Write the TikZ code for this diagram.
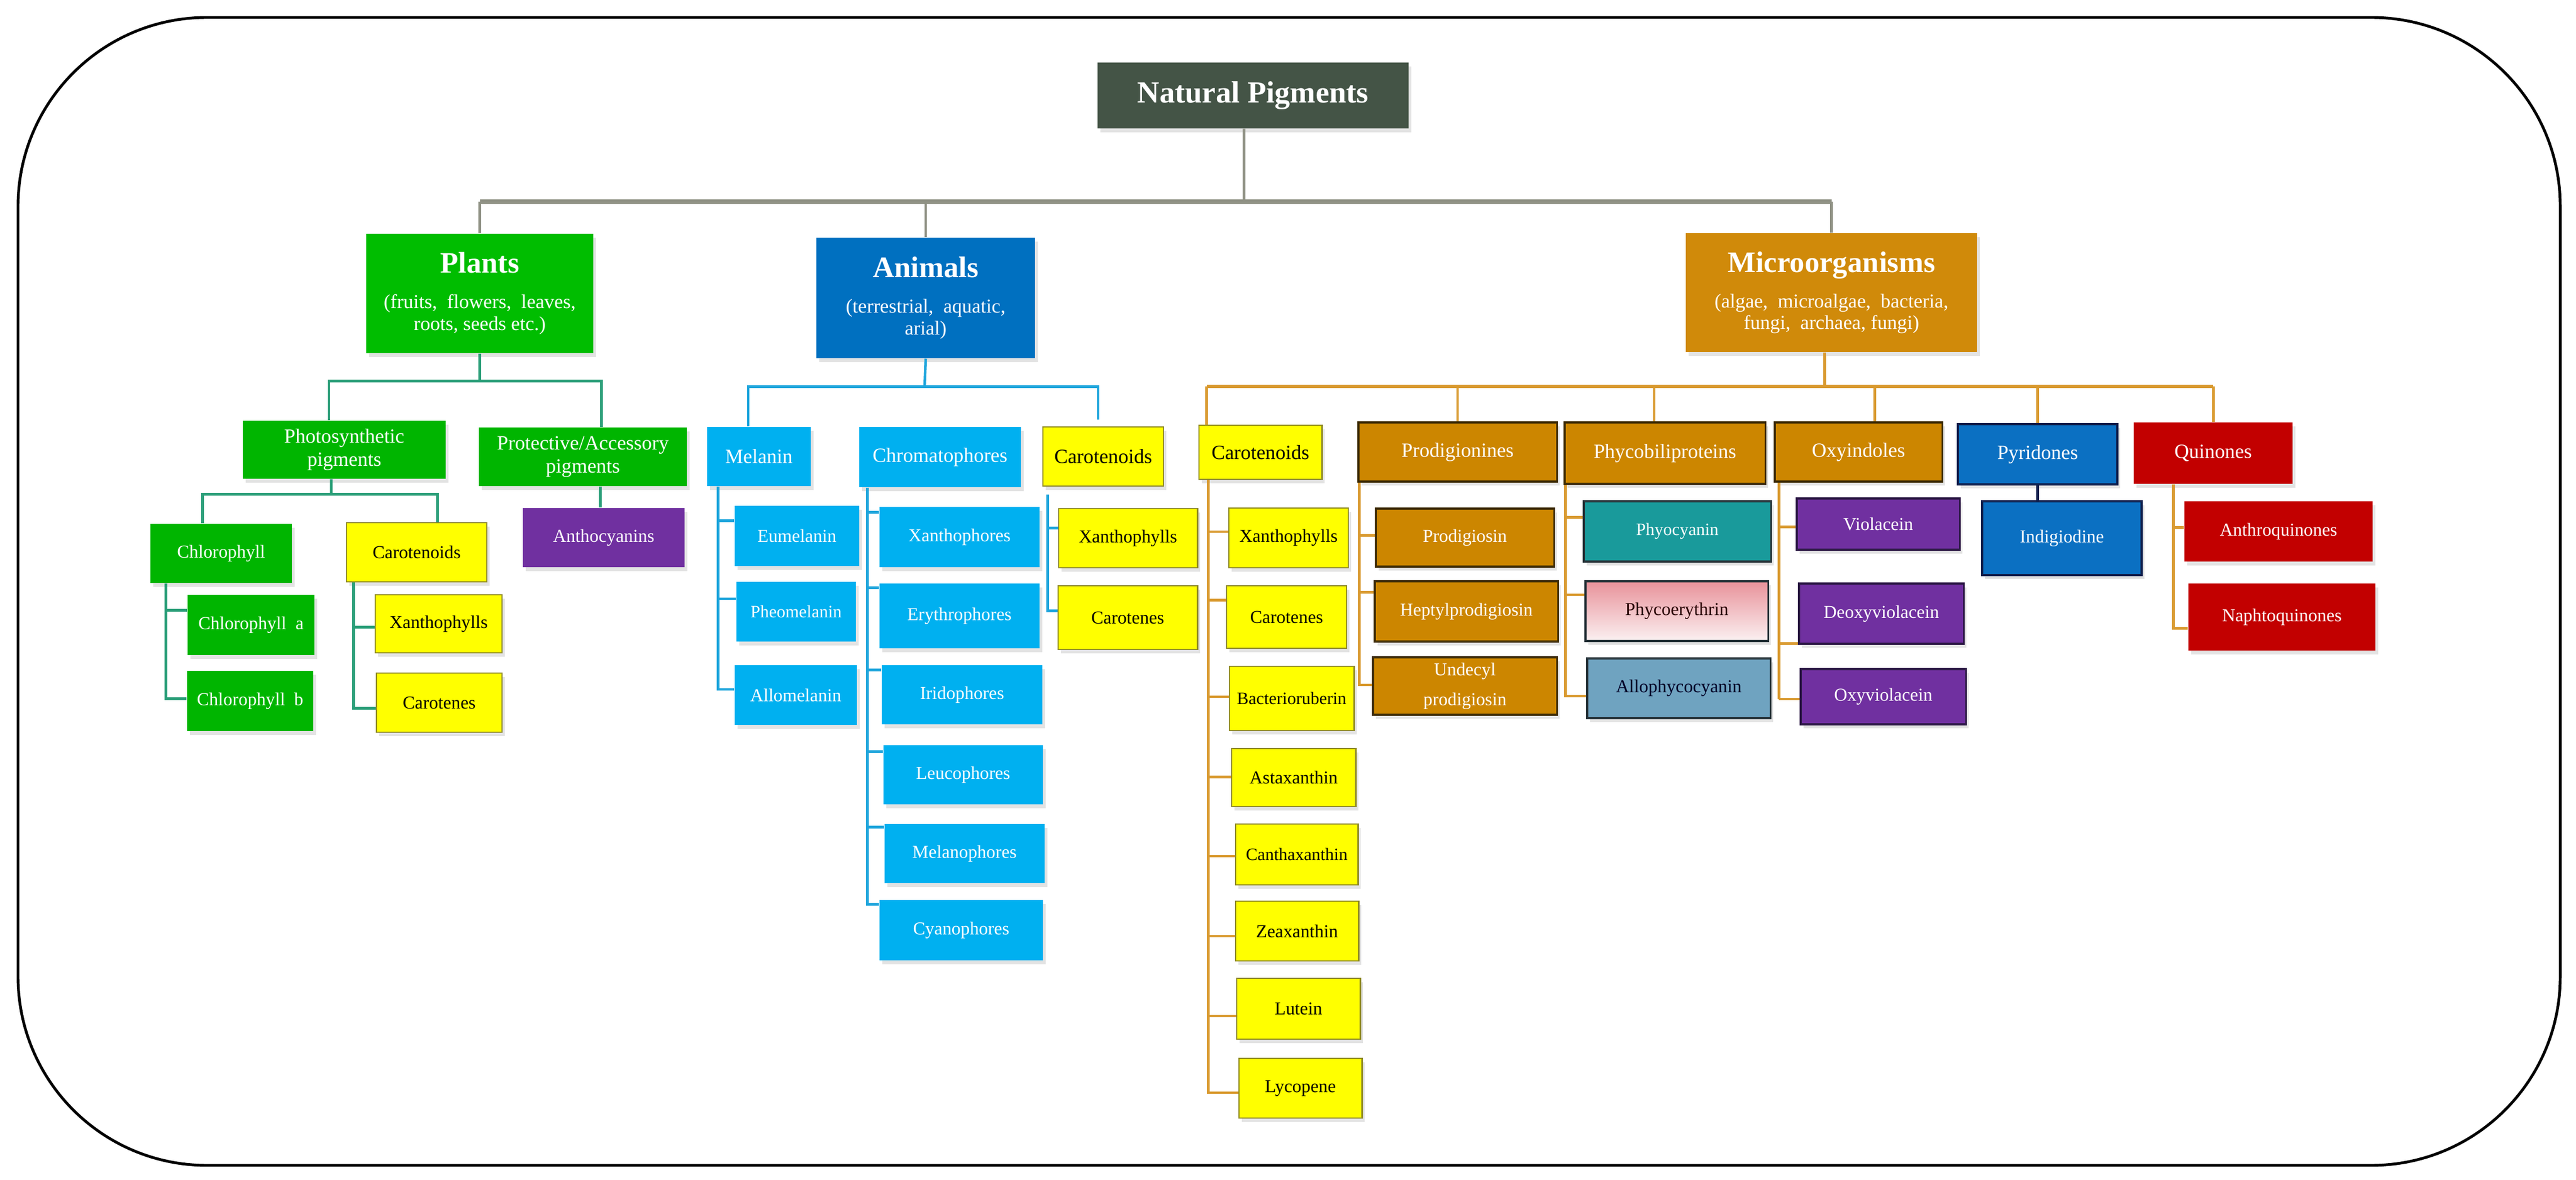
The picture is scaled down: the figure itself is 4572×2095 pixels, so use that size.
\documentclass[tikz,border=0pt]{standalone}
\usepackage{fontspec}
\setmainfont{Liberation Serif}
\usetikzlibrary{calc,shadows}
\definecolor{npc}{HTML}{445446}
\definecolor{grayln}{HTML}{8F9184}
\definecolor{plantc}{HTML}{00BD00}
\definecolor{greenc}{HTML}{00B500}
\definecolor{greenln}{HTML}{2A9E78}
\definecolor{yel}{HTML}{FFFF00}
\definecolor{yelbd}{HTML}{8F8A28}
\definecolor{purp}{HTML}{7030A0}
\definecolor{violbd}{HTML}{2C1845}
\definecolor{animc}{HTML}{0070C0}
\definecolor{lblue}{HTML}{00B0F0}
\definecolor{blueln}{HTML}{1EA5DC}
\definecolor{microc}{HTML}{D08A0A}
\definecolor{orng}{HTML}{CC8600}
\definecolor{orngbd}{HTML}{3E2C05}
\definecolor{orngln}{HTML}{D99A30}
\definecolor{tealc}{HTML}{199A9B}
\definecolor{pinkt}{HTML}{E8929A}
\definecolor{pinkb}{HTML}{FBF0F1}
\definecolor{steel}{HTML}{6FA3C0}
\definecolor{pyrc}{HTML}{0B70C2}
\definecolor{navy}{HTML}{0E1F4D}
\definecolor{redc}{HTML}{C20000}
\definecolor{darkbd}{HTML}{263238}
\tikzset{
  bx/.style={rectangle, align=center, inner sep=1pt,
    drop shadow={shadow xshift=0.5mm, shadow yshift=-0.7mm, opacity=0.22}},
  ttl/.style={font=\fontsize{10}{11}\selectfont},
  hdr/.style={font=\fontsize{10.2}{11.7}\selectfont},
  lf/.style={font=\fontsize{9.2}{11}\selectfont},
  sml/.style={font=\fontsize{8.8}{10.5}\selectfont},
  npbox/.style={bx, fill=npc, text=white, font=\bfseries\fontsize{15.5}{18}\selectfont},
  plantbox/.style={bx, fill=plantc, text=white, ttl},
  animbox/.style={bx, fill=animc, text=white, ttl},
  microbox/.style={bx, fill=microc, text=white, ttl},
  greenbox/.style={bx, fill=greenc, text=white},
  yelbox/.style={bx, fill=yel, draw=yelbd, line width=0.8pt, text=black},
  purpbox/.style={bx, fill=purp, text=white},
  lbbox/.style={bx, fill=lblue, text=white},
  orbox/.style={bx, fill=orng, draw=orngbd, line width=0.9pt, text=white},
  violbox/.style={bx, fill=purp, draw=violbd, line width=0.9pt, text=white},
  redbox/.style={bx, fill=redc, text=white},
  pyrbox/.style={bx, fill=pyrc, draw=navy, line width=1pt, text=white},
  topline/.style={draw=grayln, line width=1.4pt},
  topbus/.style={draw=grayln, line width=2.4pt},
  gln/.style={draw=greenln, line width=1.3pt},
  bln/.style={draw=blueln, line width=1.3pt},
  oln/.style={draw=orngln, line width=1.4pt},
  obus/.style={draw=orngln, line width=1.8pt},
  nln/.style={draw=navy, line width=1.6pt}
}
\newcommand\bxnode[7]{\node[#6, minimum width={(#4-#2)*0.1mm}, minimum height={(#5-#3)*0.1mm}] (#1) at ({(#2+#4)/2},{(#3+#5)/2}) {#7};}
\newcommand\tk[4]{\path ($(#2.west)+(0,#4)$) coordinate (tmp); \draw[#1] (tmp) -- (tmp -| #3);}
\newcommand\tkl[4]{\path ($(#2.west)+(0,#4)$) coordinate (tmp); \draw[#1] (#3) |- (tmp);}
\begin{document}
\begin{tikzpicture}[x=0.01cm,y=-0.01cm]
\useasboundingbox (0,0) rectangle (4572,2095);
\draw[line width=1.4pt, rounded corners=3.35cm] (32,31) rectangle (4544,2069);

% ---------- top level ----------
\bxnode{np}{1948}{111}{2500}{228}{npbox}{Natural Pigments}
\bxnode{plants}{650}{415}{1053}{627}{plantbox}{{\bfseries\fontsize{15}{18}\selectfont Plants}\\[7pt](fruits,\ \ flowers,\ \ leaves,\\roots, seeds etc.)}
\bxnode{animals}{1449}{422}{1837}{636}{animbox}{{\bfseries\fontsize{15}{18}\selectfont Animals}\\[7pt](terrestrial,\ \ aquatic,\\arial)}
\bxnode{micro}{2992}{414}{3509}{625}{microbox}{{\bfseries\fontsize{15}{18}\selectfont Microorganisms}\\[7pt](algae,\ \ microalgae,\ \ bacteria,\\fungi,\ \ archaea, fungi)}

\path ($(np.south)+(-16,129)$) coordinate (tb);
\draw[topline] ([xshift=-1.6mm]np.south) -- (tb);
\draw[topline] (plants.north) -- (plants.north |- tb);
\draw[topline] (animals.north) -- (animals.north |- tb);
\draw[topline] (micro.north) -- (micro.north |- tb);
\draw[topbus] (plants.north |- tb) -- (micro.north |- tb);

% ---------- plants ----------
\bxnode{photo}{431}{747}{791}{850}{greenbox,hdr}{Photosynthetic\\pigments}
\bxnode{prot}{850}{759}{1219}{863}{greenbox,hdr}{Protective/Accessory\\pigments}
\bxnode{chl}{267}{930}{518}{1035}{greenbox,lf}{Chlorophyll}
\bxnode{pcar}{615}{928}{864}{1033}{yelbox,lf}{Carotenoids}
\bxnode{antho}{928}{902}{1215}{1007}{purpbox,lf}{Anthocyanins}
\bxnode{chla}{333}{1056}{558}{1163}{greenbox,lf}{Chlorophyll\enspace a}
\bxnode{chlb}{332}{1191}{556}{1298}{greenbox,lf}{Chlorophyll\enspace b}
\bxnode{pxan}{666}{1056}{891}{1159}{yelbox,lf}{Xanthophylls}
\bxnode{pcaro}{668}{1195}{891}{1300}{yelbox,lf}{Carotenes}

\path ($(plants.south)+(0,49)$) coordinate (pjb);
\draw[gln] (plants.south) -- (pjb);
\draw[gln] ([xshift=-2.7mm]photo.north) |- (pjb) -| ([xshift=3.3mm]prot.north);
\path ($(photo.south)+(-23,27)$) coordinate (psb);
\draw[gln] ([xshift=-2.3mm]photo.south) -- (psb);
\draw[gln] ([xshift=-3.3mm]chl.north) |- (psb) -| ([xshift=3.7mm]pcar.north);
\path ([xshift=3.1mm]prot.south) coordinate (pa);
\draw[gln] (pa) -- (pa |- antho.north);
\path ($(chl.south west)+(28,0)$) coordinate (tchl);
\tk{gln}{chla}{tchl}{-26}
\tkl{gln}{chlb}{tchl}{-4}
\path ($(pcar.south west)+(14,0)$) coordinate (tpc);
\tk{gln}{pxan}{tpc}{6}
\tkl{gln}{pcaro}{tpc}{10}

% ---------- animals ----------
\bxnode{mel}{1255}{758}{1439}{863}{lbbox,hdr}{Melanin}
\bxnode{chrom}{1525}{758}{1812}{865}{lbbox,hdr}{Chromatophores}
\bxnode{acar}{1851}{758}{2065}{863}{yelbox,hdr}{Carotenoids}
\bxnode{eum}{1304}{898}{1525}{1005}{lbbox,lf}{Eumelanin}
\bxnode{pheo}{1307}{1033}{1519}{1139}{lbbox,sml}{Pheomelanin}
\bxnode{allm}{1304}{1181}{1521}{1287}{lbbox,lf}{Allomelanin}
\bxnode{xanp}{1561}{900}{1845}{1007}{lbbox,lf}{Xanthophores}
\bxnode{eryth}{1561}{1036}{1845}{1151}{lbbox,lf}{Erythrophores}
\bxnode{irid}{1565}{1181}{1850}{1286}{lbbox,lf}{Iridophores}
\bxnode{leuc}{1568}{1323}{1851}{1428}{lbbox,lf}{Leucophores}
\bxnode{melp}{1570}{1463}{1854}{1568}{lbbox,lf}{Melanophores}
\bxnode{cyan}{1561}{1598}{1851}{1705}{lbbox,lf}{Cyanophores}
\bxnode{axan}{1879}{903}{2125}{1008}{yelbox,lf}{Xanthophylls}
\bxnode{acaro}{1878}{1040}{2125}{1153}{yelbox,lf}{Carotenes}

\path ($(animals.south)+(-2,50)$) coordinate (asb);
\draw[bln] (animals.south) -- (asb);
\draw[bln] ([xshift=-1.9mm]mel.north) |- (asb) -| ([xshift=-0.9mm,yshift=1.2mm]acar.north);
\path ($(mel.south west)+(20,0)$) coordinate (tmel);
\tk{bln}{eum}{tmel}{-27}
\tk{bln}{pheo}{tmel}{-23}
\tkl{bln}{allm}{tmel}{-10}
\path ($(chrom.south west)+(15,0)$) coordinate (tchr);
\tk{bln}{xanp}{tchr}{-44}
\tk{bln}{eryth}{tchr}{-50}
\tk{bln}{irid}{tchr}{-44}
\tk{bln}{leuc}{tchr}{-41}
\tk{bln}{melp}{tchr}{-47}
\tkl{bln}{cyan}{tchr}{-46}
\path ($(acar.south west)+(10,14)$) coordinate (tac);
\tk{bln}{axan}{tac}{-18}
\tkl{bln}{acaro}{tac}{-12}

% ---------- microorganisms ----------
\bxnode{mcar}{2128}{755}{2346}{851}{yelbox,hdr}{Carotenoids}
\bxnode{prod}{2411}{750}{2763}{855}{orbox,hdr}{Prodigionines}
\bxnode{phyco}{2777}{750}{3133}{859}{orbox,hdr}{Phycobiliproteins}
\bxnode{oxy}{3150}{750}{3447}{855}{orbox,hdr}{Oxyindoles}
\bxnode{pyr}{3475}{753}{3758}{860}{pyrbox,hdr}{Pyridones}
\bxnode{quin}{3787}{750}{4069}{859}{redbox,hdr}{Quinones}

\bxnode{mxan}{2181}{902}{2393}{1008}{yelbox,lf}{Xanthophylls}
\bxnode{mcaro}{2177}{1040}{2390}{1151}{yelbox,lf}{Carotenes}
\bxnode{bact}{2182}{1183}{2403}{1297}{yelbox,sml}{Bacterioruberin}
\bxnode{asta}{2186}{1329}{2406}{1432}{yelbox,lf}{Astaxanthin}
\bxnode{cant}{2193}{1463}{2410}{1571}{yelbox,sml}{Canthaxanthin}
\bxnode{zea}{2193}{1600}{2411}{1706}{yelbox,lf}{Zeaxanthin}
\bxnode{lut}{2195}{1737}{2414}{1845}{yelbox,lf}{Lutein}
\bxnode{lyc}{2199}{1879}{2417}{1985}{yelbox,lf}{Lycopene}

\bxnode{prodg}{2442}{903}{2758}{1006}{orbox,lf}{Prodigiosin}
\bxnode{hept}{2440}{1032}{2765}{1139}{orbox,lf}{Heptylprodigiosin}
\bxnode{undec}{2437}{1167}{2763}{1269}{orbox,lf}{Undecyl\\[4pt]prodigiosin}

\bxnode{pcy}{2811}{890}{3143}{997}{bx,fill=tealc,draw=darkbd,line width=0.9pt,text=white,sml}{Phyocyanin}
\bxnode{pery}{2814}{1032}{3138}{1138}{bx,top color=pinkt,bottom color=pinkb,draw=darkbd,line width=0.9pt,text=black!85!red,lf}{Phycoerythrin}
\bxnode{apc}{2817}{1169}{3142}{1275}{bx,fill=steel,draw=darkbd,line width=0.9pt,text=black!85!blue,lf}{Allophycocyanin}

\bxnode{viol}{3189}{885}{3478}{976}{violbox,lf}{Violacein}
\bxnode{deox}{3193}{1036}{3485}{1143}{violbox,lf}{Deoxyviolacein}
\bxnode{oxv}{3196}{1188}{3489}{1286}{violbox,lf}{Oxyviolacein}

\bxnode{indi}{3518}{890}{3801}{1021}{pyrbox,lf}{Indigiodine}

\bxnode{anth}{3877}{890}{4211}{997}{redbox,lf}{Anthroquinones}
\bxnode{naph}{3884}{1036}{4216}{1155}{redbox,lf}{Naphtoquinones}

\path ($(micro.south)+(-12,60)$) coordinate (msb);
\draw[oln] ([xshift=-1.2mm]micro.south) -- (msb);
\path ($(mcar.north west)+(15,0)$) coordinate (mcd);
\draw[obus] (mcd |- msb) -- (quin.north |- msb);
\draw[oln] (mcd) -- (mcd |- msb);
\draw[oln] (prod.north) -- (prod.north |- msb);
\path ([xshift=-1.9mm]phyco.north) coordinate (phd);
\draw[oln] (phd) -- (phd |- msb);
\path ([xshift=2.9mm]oxy.north) coordinate (oxd);
\draw[oln] (oxd) -- (oxd |- msb);
\draw[oln] (pyr.north) -- (pyr.north |- msb);
\draw[oln] (quin.north) -- (quin.north |- msb);

\path ($(mcar.south west)+(18,0)$) coordinate (tmc);
\tk{oln}{mxan}{tmc}{-11}
\tk{oln}{mcaro}{tmc}{-30}
\tk{oln}{bact}{tmc}{-3}
\tk{oln}{asta}{tmc}{-1}
\tk{oln}{cant}{tmc}{3}
\tk{oln}{zea}{tmc}{9}
\tk{oln}{lut}{tmc}{13}
\tkl{oln}{lyc}{tmc}{8}

\path ($(prod.south west)+(3,0)$) coordinate (tpr);
\tk{oln}{prodg}{tpr}{-4}
\tk{oln}{hept}{tpr}{-34}
\tkl{oln}{undec}{tpr}{-2}

\path ($(phyco.south west)+(3,0)$) coordinate (tph);
\tk{oln}{pcy}{tph}{-25}
\tk{oln}{pery}{tph}{-29}
\tkl{oln}{apc}{tph}{14}

\path ($(oxy.south west)+(9,0)$) coordinate (tox);
\tk{oln}{viol}{tox}{5}
\tk{oln}{oxv}{tox}{4}
\path ($(deox.west)+(0,53)$) coordinate (dxt);
\draw[oln] (dxt) -- (dxt -| tox);
\draw[oln] (tox) -- (tox |- oxv.west) -- +(0,4);

\draw[nln] (pyr.south) -- (pyr.south |- indi.north);

\path ($(quin.south west)+(71,0)$) coordinate (tqu);
\tk{oln}{anth}{tqu}{-7}
\tkl{oln}{naph}{tqu}{20}
\end{tikzpicture}
\end{document}
